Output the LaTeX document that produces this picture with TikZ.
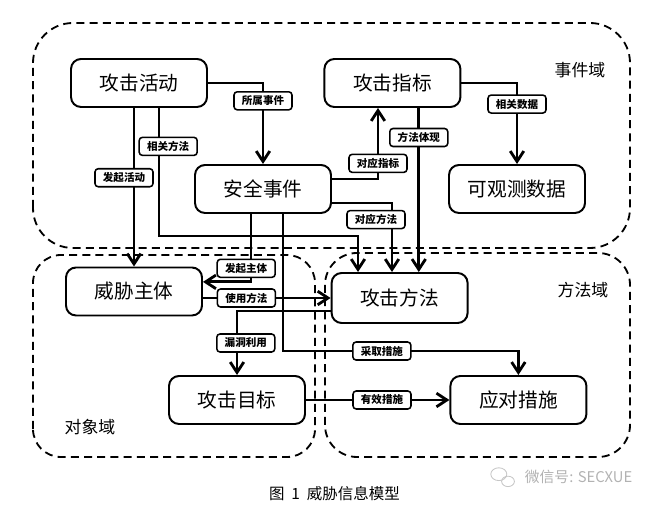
\documentclass[tikz,border=0pt]{standalone}
\usepackage{fontspec}
\setmainfont{Noto Sans CJK SC}
\usetikzlibrary{arrows.meta,calc}

\begin{document}
\begin{tikzpicture}[
  box/.style={draw, line width=1.4pt, rounded corners=2.5mm, minimum width=3.4cm, minimum height=1.2cm, font=\fontsize{14}{16}\selectfont},
  tag/.style={draw, fill=white, line width=1.1pt, rounded corners=0.8mm, minimum width=1.45cm, minimum height=0.45cm, inner sep=0pt, font=\fontsize{7.5}{8}\selectfont\bfseries},
  conn/.style={line width=2pt, -{Straight Barb[length=2.6mm,width=3.4mm]}},
  zone/.style={line width=1.3pt, dash pattern=on 2mm off 1.3mm},
  zonelabel/.style={font=\fontsize{12}{14}\selectfont}
]
\useasboundingbox (0,0) rectangle (16.45,12.675);

% domains
\draw[zone, rounded corners=1cm] (0.825,6.475) rectangle (15.75,12.1);
\draw[zone, rounded corners=0.7cm] (0.825,1.25) rectangle (7.875,6.3);
\draw[zone, rounded corners=0.8cm] (8.125,1.25) rectangle (15.75,6.35);
\node[zonelabel] (sjy) at (14.5,10.925) {事件域};
\node[zonelabel] (ffy) at (14.575,5.425) {方法域};
\node[zonelabel] (dxy) at (2.25,2.0) {对象域};

% entities
\node[box] (gjhd) at (3.475,10.6) {攻击活动};
\node[box] (gjzb) at (9.81,10.6) {攻击指标};
\node[box] (aqsj) at (6.575,7.95) {安全事件};
\node[box] (gcsj) at (12.925,7.95) {可观测数据};
\node[box] (wxzt) at (3.35,5.3875) {威胁主体};
\node[box, minimum height=1.25cm] (gjff) at (9.99,5.225) {攻击方法};
\node[box] (gjmb) at (5.925,2.675) {攻击目标};
\node[box] (dccs) at (12.96,2.675) {应对措施};

% from 攻击活动
\draw[conn] (gjhd.east) -| node[tag, pos=0.61] {所属事件} (aqsj.north);
\draw[conn] (gjhd.south -| wxzt.north) -- node[tag, pos=0.44, xshift=-2.5mm] {发起活动} (wxzt.north);
\coordinate (fa1) at (8.95,6.775);
\draw[conn] ([xshift=5mm]gjhd.south) |- node[tag, pos=0.15, xshift=2.3mm] {相关方法} (fa1) -- (fa1 |- gjff.north);

% from 安全事件
\draw[conn] ([yshift=2.5mm]aqsj.east) -| node[tag, pos=0.61] {对应指标} ([xshift=-3.6mm]gjzb.south);
\draw[conn] ([yshift=-3.5mm]aqsj.east) -| node[tag, pos=0.62, xshift=-4mm] {对应方法} ([xshift=-1.9mm]gjff.north);
\draw[conn] ([xshift=-3mm]aqsj.south) |- node[tag, pos=0.4, xshift=-1.2mm] {发起主体} ([yshift=2.4mm]wxzt.east);
\draw[conn] ([xshift=5mm]aqsj.south) |- node[tag, pos=0.71] {采取措施} ([yshift=6mm]dccs.north) -- (dccs.north);

% from 攻击指标
\coordinate (zb1) at ([xshift=6.6mm]gjzb.south);
\draw[conn] (zb1) -- node[tag, pos=0.18] {方法体现} (zb1 |- gjff.north);
\draw[conn] (gjzb.east) -| node[tag, pos=0.63] {相关数据} (gcsj.north);

% lower part
\draw[conn] (wxzt.east |- gjff.west) -- node[tag, pos=0.34] {使用方法} (gjff.west);
\draw[conn] ([yshift=-3.25mm]gjff.west) -| node[tag, pos=0.75, xshift=2.2mm] {漏洞利用} (gjmb.north);
\draw[conn] (gjmb.east) -- node[tag, pos=0.53] {有效措施} (dccs.west);

% caption and watermark
\node[font=\fontsize{11}{13}\selectfont] (cap) at (8.36,0.325) {图\ \ 1\ \ 威胁信息模型};
\draw[gray!45, line width=0.6pt] (12.47,0.82) ellipse (0.2 and 0.16);
\draw[gray!45, line width=0.6pt] (12.7,0.64) ellipse (0.16 and 0.13);
\node[text=gray!60, font=\fontsize{10.5}{12}\selectfont, anchor=west] (wm) at (13.0,0.75) {微信号: SECXUE};
\end{tikzpicture}
\end{document}
